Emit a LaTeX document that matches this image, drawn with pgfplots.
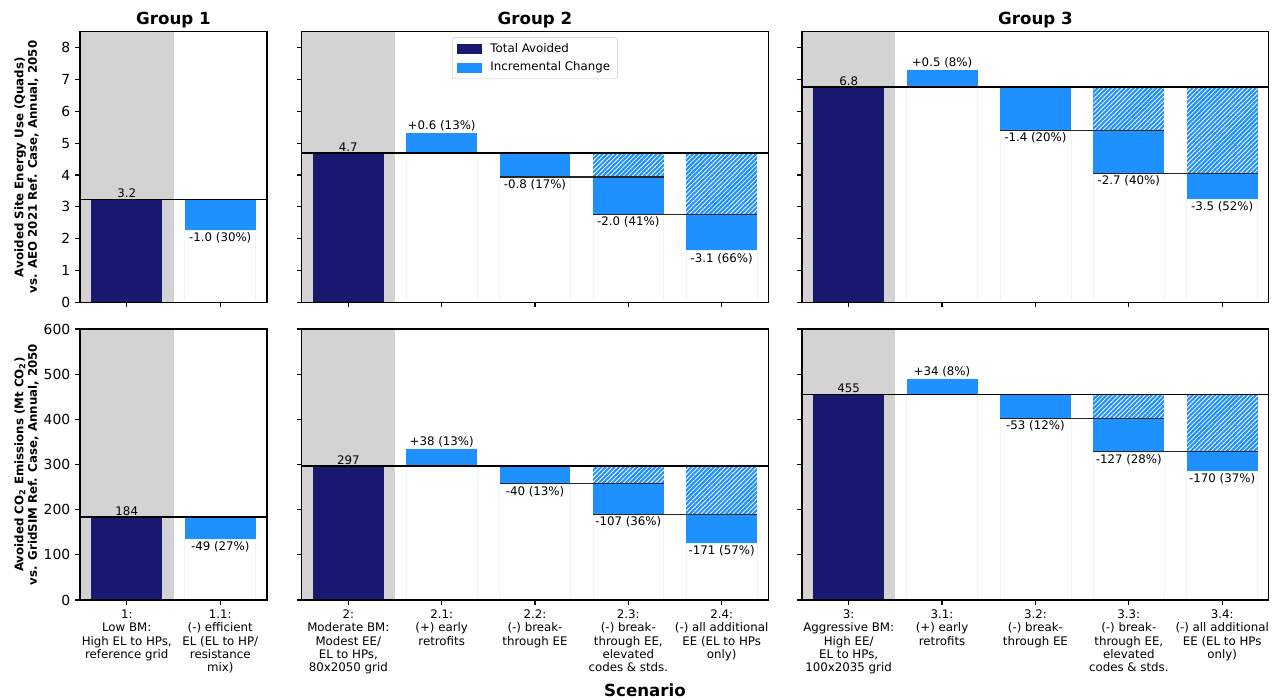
\documentclass[border=0pt]{standalone}
\usepackage{fontspec}
\setmainfont{DejaVu Sans}
\usepackage{pgfplots}
\pgfplotsset{compat=1.18}
\usetikzlibrary{patterns.meta}
\definecolor{navy}{RGB}{25,25,112}
\definecolor{dblue}{RGB}{30,144,255}
\definecolor{lgray}{RGB}{211,211,211}
\newcommand{\ticksz}{\fontsize{10bp}{12bp}\selectfont}
\newcommand{\lblsz}{\fontsize{8.5bp}{9.6bp}\selectfont}
\newcommand{\ttlsz}{\fontsize{12bp}{14bp}\selectfont\bfseries}
\pgfplotsset{
 panel/.style={scale only axis, axis on top, xmin=-0.5, ymin=0,
   tick align=outside, major tick length=3.5bp, tick pos=left,
   tick style={black, line width=0.8bp},
   axis line style={line width=0.8bp},
   /pgf/number format/assume math mode=true,
   yticklabel style={font=\ticksz},
   xticklabel style={font=\lblsz, align=center},
   title style={font=\ttlsz, yshift=-6.8bp},
   ylabel style={font=\lblsz\bfseries, align=center, at={(axis description cs:-0.286,0.5)}, anchor=center},
 },
 wb/.style={ybar, bar width=0.76, bar shift=0pt, draw=none, forget plot},
 bg/.style={ybar, bar width=1, bar shift=0pt, fill=lgray, draw=none, forget plot},
 dk/.style={wb, fill=navy},
 sb/.style={wb, fill=dblue},
 hb/.style={wb, pattern={Lines[angle=45,distance=2.3bp,line width=0.6bp]}, pattern color=white},
 wh/.style={wb, fill=white, draw=dblue!10, line width=0.5bp},
 basel/.style={black, line width=1.1bp, forget plot, sharp plot},
 stepl/.style={black!85, line width=0.8bp, forget plot, sharp plot},
}
\tikzset{up/.style={font=\lblsz, anchor=south, inner sep=1bp},
 dn/.style={font=\lblsz, anchor=north, inner sep=1.5bp}}
\begin{document}
\begin{tikzpicture}
\path[use as bounding box] (0,0) rectangle (918.72bp,504bp);
% ---------------- Row 1, Group 1
\begin{axis}[panel, at={(57.6bp,286.3bp)}, anchor=south west,
  width=134.64bp, height=194.8bp, xmax=1.5, ymax=8.5,
  xtick={0,1}, xticklabels={}, ytick={0,1,...,8},
  title={Group 1},
  ylabel={Avoided Site Energy Use (Quads)\\vs. AEO 2021 Ref. Case, Annual, 2050}]
\addplot[bg] coordinates {(0,8.5)};
\addplot[dk] coordinates {(0,3.23)};
\addplot[sb] coordinates {(1,3.23)};
\addplot[wh] coordinates {(1,2.27)};
\addplot[basel] coordinates {(-0.5,3.23) (1.5,3.23)};
\node[up] at (axis cs:0,3.23) {3.2};
\node[dn] at (axis cs:1,2.27) {-1.0 (30\%)};
\end{axis}
% ---------------- Row 1, Group 2
\begin{axis}[panel, at={(217.2bp,286.3bp)}, anchor=south west,
  width=336bp, height=194.8bp, xmax=4.5, ymax=8.5,
  xtick={0,...,4}, xticklabels={}, ytick={0,1,...,8}, yticklabels={},
  title={Group 2},
  legend style={font=\lblsz, draw=black!20, rounded corners=2bp, at={(0.5,1)}, yshift=-3.8bp, anchor=north,
    inner xsep=3.4bp, inner ysep=2.2bp, row sep=1.6bp},
  legend cell align=left]
\addplot[bg] coordinates {(0,8.5)};
\addplot[dk] coordinates {(0,4.70)};
\addplot[sb] coordinates {(1,5.33)};
\addplot[wh] coordinates {(1,4.70)};
\addplot[sb] coordinates {(2,4.70)};
\addplot[wh] coordinates {(2,3.94)};
\addplot[sb] coordinates {(3,4.70)};
\addplot[hb] coordinates {(3,4.70)};
\addplot[sb] coordinates {(3,3.94)};
\addplot[wh] coordinates {(3,2.76)};
\addplot[sb] coordinates {(4,4.70)};
\addplot[hb] coordinates {(4,4.70)};
\addplot[sb] coordinates {(4,2.76)};
\addplot[wh] coordinates {(4,1.62)};
\addplot[basel] coordinates {(-0.5,4.70) (4.5,4.70)};
\addplot[stepl] coordinates {(1.62,3.94) (3.38,3.94)};
\addplot[stepl] coordinates {(2.62,2.76) (4.38,2.76)};
\node[up] at (axis cs:0,4.70) {4.7};
\node[up] at (axis cs:1,5.33) {+0.6 (13\%)};
\node[dn] at (axis cs:2,3.94) {-0.8 (17\%)};
\node[dn] at (axis cs:3,2.76) {-2.0 (41\%)};
\node[dn] at (axis cs:4,1.62) {-3.1 (66\%)};
\addlegendimage{legend image code/.code={\fill[navy, sharp corners] (0bp,-3.2bp) rectangle (17.3bp,3.2bp); \path (21.6bp,0bp);}}
\addlegendentry{Total Avoided}
\addlegendimage{legend image code/.code={\fill[dblue, sharp corners] (0bp,-3.2bp) rectangle (17.3bp,3.2bp); \path (21.6bp,0bp);}}
\addlegendentry{Incremental Change}
\end{axis}
% ---------------- Row 1, Group 3
\begin{axis}[panel, at={(577.4bp,286.3bp)}, anchor=south west,
  width=336.2bp, height=194.8bp, xmax=4.5, ymax=8.5,
  xtick={0,...,4}, xticklabels={}, ytick={0,1,...,8}, yticklabels={},
  title={Group 3}]
\addplot[bg] coordinates {(0,8.5)};
\addplot[dk] coordinates {(0,6.76)};
\addplot[sb] coordinates {(1,7.30)};
\addplot[wh] coordinates {(1,6.76)};
\addplot[sb] coordinates {(2,6.76)};
\addplot[wh] coordinates {(2,5.40)};
\addplot[sb] coordinates {(3,6.76)};
\addplot[hb] coordinates {(3,6.76)};
\addplot[sb] coordinates {(3,5.40)};
\addplot[wh] coordinates {(3,4.06)};
\addplot[sb] coordinates {(4,6.76)};
\addplot[hb] coordinates {(4,6.76)};
\addplot[sb] coordinates {(4,4.06)};
\addplot[wh] coordinates {(4,3.25)};
\addplot[basel] coordinates {(-0.5,6.76) (4.5,6.76)};
\addplot[stepl] coordinates {(1.62,5.40) (3.38,5.40)};
\addplot[stepl] coordinates {(2.62,4.06) (4.38,4.06)};
\node[up] at (axis cs:0,6.76) {6.8};
\node[up] at (axis cs:1,7.30) {+0.5 (8\%)};
\node[dn] at (axis cs:2,5.40) {-1.4 (20\%)};
\node[dn] at (axis cs:3,4.06) {-2.7 (40\%)};
\node[dn] at (axis cs:4,3.25) {-3.5 (52\%)};
\end{axis}
% ---------------- Row 2, Group 1
\begin{axis}[panel, at={(57.6bp,72bp)}, anchor=south west,
  width=134.64bp, height=195.1bp, xmax=1.5, ymax=600,
  xtick={0,1}, ytick={0,100,...,600},
  xticklabels={{1:\\Low BM:\\High EL to HPs,\\reference grid},{1.1:\\(-) efficient\\EL (EL to HP/\\resistance\\mix)}},
  ylabel={Avoided CO\textsubscript{2} Emissions (Mt CO\textsubscript{2})\\vs. GridSIM Ref. Case, Annual, 2050}]
\addplot[bg] coordinates {(0,600)};
\addplot[dk] coordinates {(0,184)};
\addplot[sb] coordinates {(1,184)};
\addplot[wh] coordinates {(1,135)};
\addplot[basel] coordinates {(-0.5,184) (1.5,184)};
\node[up] at (axis cs:0,184) {184};
\node[dn] at (axis cs:1,135) {-49 (27\%)};
\end{axis}
% ---------------- Row 2, Group 2
\begin{axis}[panel, at={(217.2bp,72bp)}, anchor=south west,
  width=336bp, height=195.1bp, xmax=4.5, ymax=600,
  xtick={0,...,4}, ytick={0,100,...,600}, yticklabels={},
  xticklabels={{2:\\Moderate BM:\\Modest EE/\\EL to HPs,\\80x2050 grid},{2.1:\\(+) early\\retrofits},{2.2:\\(-) break-\\through EE},{2.3:\\(-) break-\\through EE,\\elevated\\codes \& stds.},{2.4:\\(-) all additional\\EE (EL to HPs\\only)}}]
\addplot[bg] coordinates {(0,600)};
\addplot[dk] coordinates {(0,297)};
\addplot[sb] coordinates {(1,335)};
\addplot[wh] coordinates {(1,297)};
\addplot[sb] coordinates {(2,297)};
\addplot[wh] coordinates {(2,257)};
\addplot[sb] coordinates {(3,297)};
\addplot[hb] coordinates {(3,297)};
\addplot[sb] coordinates {(3,257)};
\addplot[wh] coordinates {(3,190)};
\addplot[sb] coordinates {(4,297)};
\addplot[hb] coordinates {(4,297)};
\addplot[sb] coordinates {(4,190)};
\addplot[wh] coordinates {(4,126)};
\addplot[basel] coordinates {(-0.5,297) (4.5,297)};
\addplot[stepl] coordinates {(1.62,257) (3.38,257)};
\addplot[stepl] coordinates {(2.62,190) (4.38,190)};
\node[up] at (axis cs:0,297) {297};
\node[up] at (axis cs:1,335) {+38 (13\%)};
\node[dn] at (axis cs:2,257) {-40 (13\%)};
\node[dn] at (axis cs:3,190) {-107 (36\%)};
\node[dn] at (axis cs:4,126) {-171 (57\%)};
\end{axis}
% ---------------- Row 2, Group 3
\begin{axis}[panel, at={(577.4bp,72bp)}, anchor=south west,
  width=336.2bp, height=195.1bp, xmax=4.5, ymax=600,
  xtick={0,...,4}, ytick={0,100,...,600}, yticklabels={},
  xticklabels={{3:\\Aggressive BM:\\High EE/\\EL to HPs,\\100x2035 grid},{3.1:\\(+) early\\retrofits},{3.2:\\(-) break-\\through EE},{3.3:\\(-) break-\\through EE,\\elevated\\codes \& stds.},{3.4:\\(-) all additional\\EE (EL to HPs\\only)}}]
\addplot[bg] coordinates {(0,600)};
\addplot[dk] coordinates {(0,455)};
\addplot[sb] coordinates {(1,489)};
\addplot[wh] coordinates {(1,455)};
\addplot[sb] coordinates {(2,455)};
\addplot[wh] coordinates {(2,402)};
\addplot[sb] coordinates {(3,455)};
\addplot[hb] coordinates {(3,455)};
\addplot[sb] coordinates {(3,402)};
\addplot[wh] coordinates {(3,328)};
\addplot[sb] coordinates {(4,455)};
\addplot[hb] coordinates {(4,455)};
\addplot[sb] coordinates {(4,328)};
\addplot[wh] coordinates {(4,285)};
\addplot[basel] coordinates {(-0.5,455) (4.5,455)};
\addplot[stepl] coordinates {(1.62,402) (3.38,402)};
\addplot[stepl] coordinates {(2.62,328) (4.38,328)};
\node[up] at (axis cs:0,455) {455};
\node[up] at (axis cs:1,489) {+34 (8\%)};
\node[dn] at (axis cs:2,402) {-53 (12\%)};
\node[dn] at (axis cs:3,328) {-127 (28\%)};
\node[dn] at (axis cs:4,285) {-170 (37\%)};
\end{axis}
\node[font=\ttlsz] at (464.4bp,7.2bp) {Scenario};
\end{tikzpicture}
\end{document}
